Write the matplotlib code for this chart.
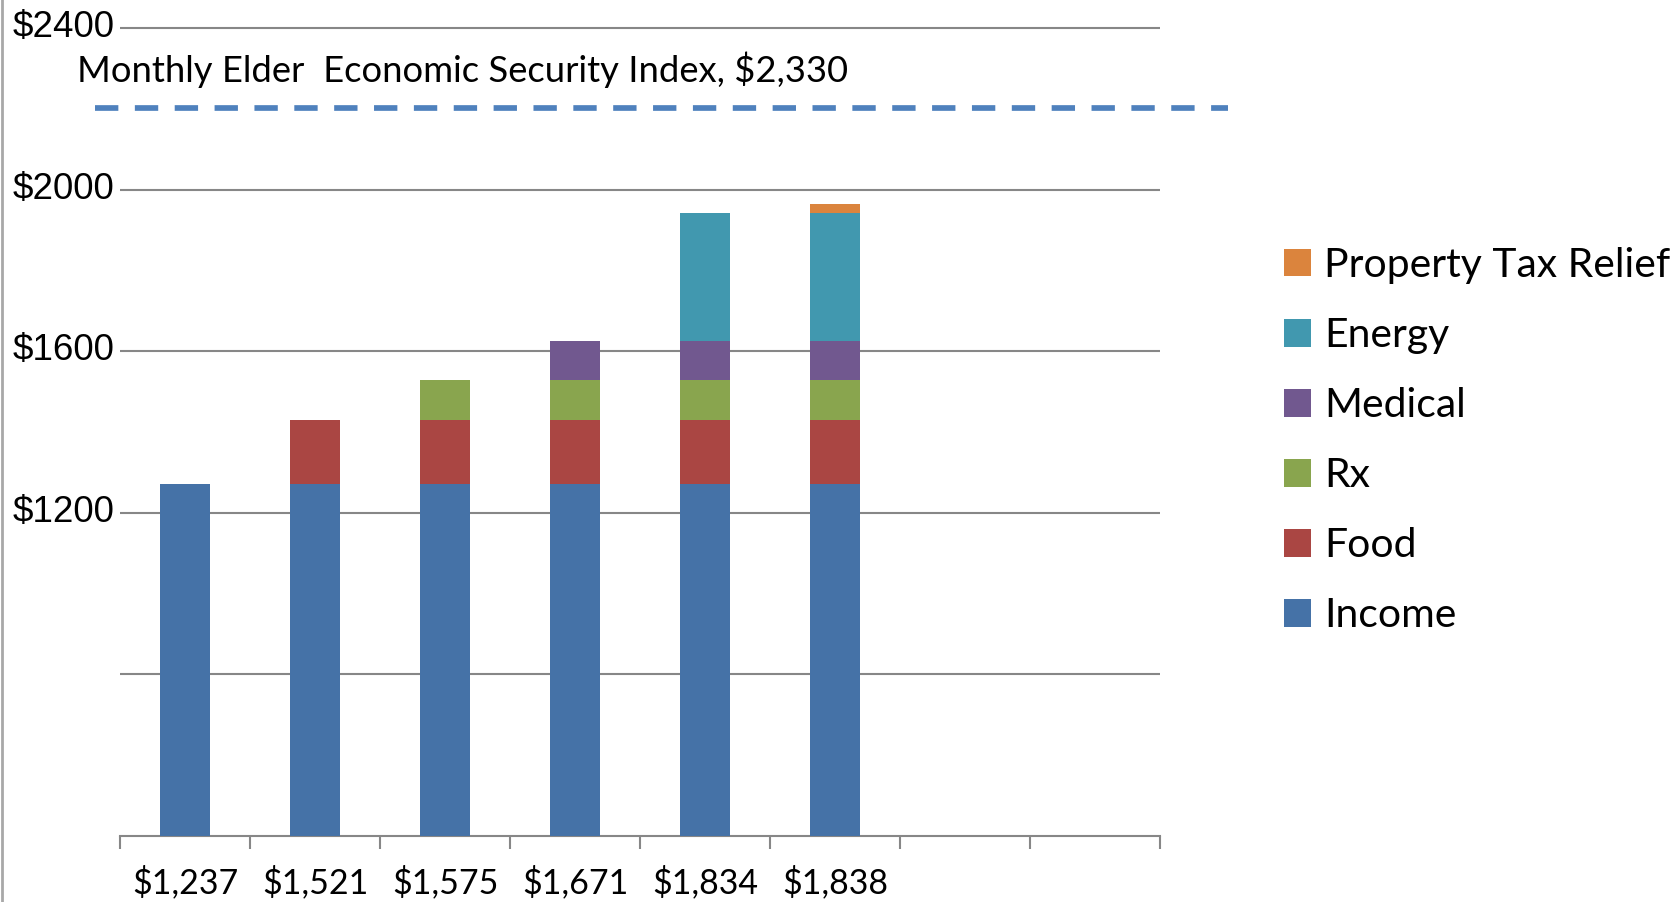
import matplotlib
matplotlib.use('Agg')
import matplotlib.pyplot as plt
import matplotlib.transforms as mtransforms
from matplotlib.lines import Line2D
from matplotlib.patches import Patch

# data
categories = ['$1,237', '$1,521', '$1,575', '$1,671', '$1,834', '$1,838', '', '']
series = ['Income', 'Food', 'Rx', 'Medical', 'Energy', 'Property Tax Relief']
income = [1272, 1272, 1272, 1272, 1272, 1272, 0, 0]
food = [0, 158, 158, 158, 158, 158, 0, 0]
rx = [0, 0, 98, 98, 98, 98, 0, 0]
medical = [0, 0, 0, 97, 97, 97, 0, 0]
energy = [0, 0, 0, 0, 317, 317, 0, 0]
property_tax = [0, 0, 0, 0, 0, 23, 0, 0]
index_label = 'Monthly Elder  Economic Security Index, $2,330'
index_line = 2202
ytick_values = [800, 1200, 1600, 2000, 2400]
ytick_labels = ['', '$1200', '$1600', '$2000', '$2400']

colors = ['#4572A7', '#AA4643', '#89A54E', '#71588F', '#4198AF', '#DB843D']

fig = plt.figure(figsize=(16.79, 9.02), dpi=100)
ax = fig.add_axes([120 / 1679, 66 / 902, 1040 / 1679, 836 / 902])

x = list(range(len(categories)))
bottom = [0] * len(categories)
handles = []
for name, vals, c in zip(series, [income, food, rx, medical, energy, property_tax], colors):
    ax.bar(x, vals, width=0.39, bottom=bottom, color=c, zorder=3)
    bottom = [b + v for b, v in zip(bottom, vals)]
    handles.append(Patch(facecolor=c, label=name))

ax.set_xlim(-0.5, len(categories) - 0.5)
ax.set_ylim(400, 2469)

# grid + axes styling
ax.set_yticks(ytick_values)
ax.set_yticklabels(ytick_labels, fontfamily='Liberation Sans', fontsize=26.5)
ax.tick_params(axis='y', length=0, pad=4)
# labels sit a little above their gridlines in the original
lift = mtransforms.ScaledTranslation(0, 3 / 72, fig.dpi_scale_trans)
for lab in ax.get_yticklabels():
    lab.set_transform(lab.get_transform() + lift)
ax.grid(axis='y', color='#878787', linewidth=1.5, zorder=0)
for s in ['left', 'right', 'top']:
    ax.spines[s].set_visible(False)
ax.spines['bottom'].set_color('#878787')
ax.spines['bottom'].set_linewidth(1.5)

ax.set_xticks([i - 0.5 for i in range(len(categories) + 1)])
ax.set_xticklabels([])
ax.tick_params(axis='x', which='major', direction='out', length=9, width=1.5, color='#878787')
ax.set_xticks(x, minor=True)
ax.set_xticklabels(categories, minor=True, fontfamily='Lato', fontsize=24.5)
ax.tick_params(axis='x', which='minor', length=0, pad=21)

# index line and label
ax.axhline(index_line, xmin=-0.024, xmax=1.065, color='#4F81BD', linewidth=4.1,
           linestyle=(0, (4.1, 2.9)), dash_capstyle='butt', clip_on=False, zorder=4)
fig.text(77 / 1679, 1 - 70 / 902, index_label, fontfamily='Lato', fontsize=26.2,
         va='center', ha='left')

leg = fig.legend(handles=handles[::-1], loc='upper left',
                 bbox_to_anchor=(1284 / 1679, 1 - 247 / 902), frameon=False,
                 prop={'family': 'Lato', 'size': 29.4}, handlelength=0.66,
                 handleheight=0.66, handletextpad=0.32, labelspacing=0.81,
                 borderpad=0, borderaxespad=0)

# thin border on the left edge
fig.add_artist(Line2D([1.5 / 1679, 1.5 / 1679], [0, 1], color='#a8a8a8', linewidth=2))

fig.savefig('out.png', dpi=100)
